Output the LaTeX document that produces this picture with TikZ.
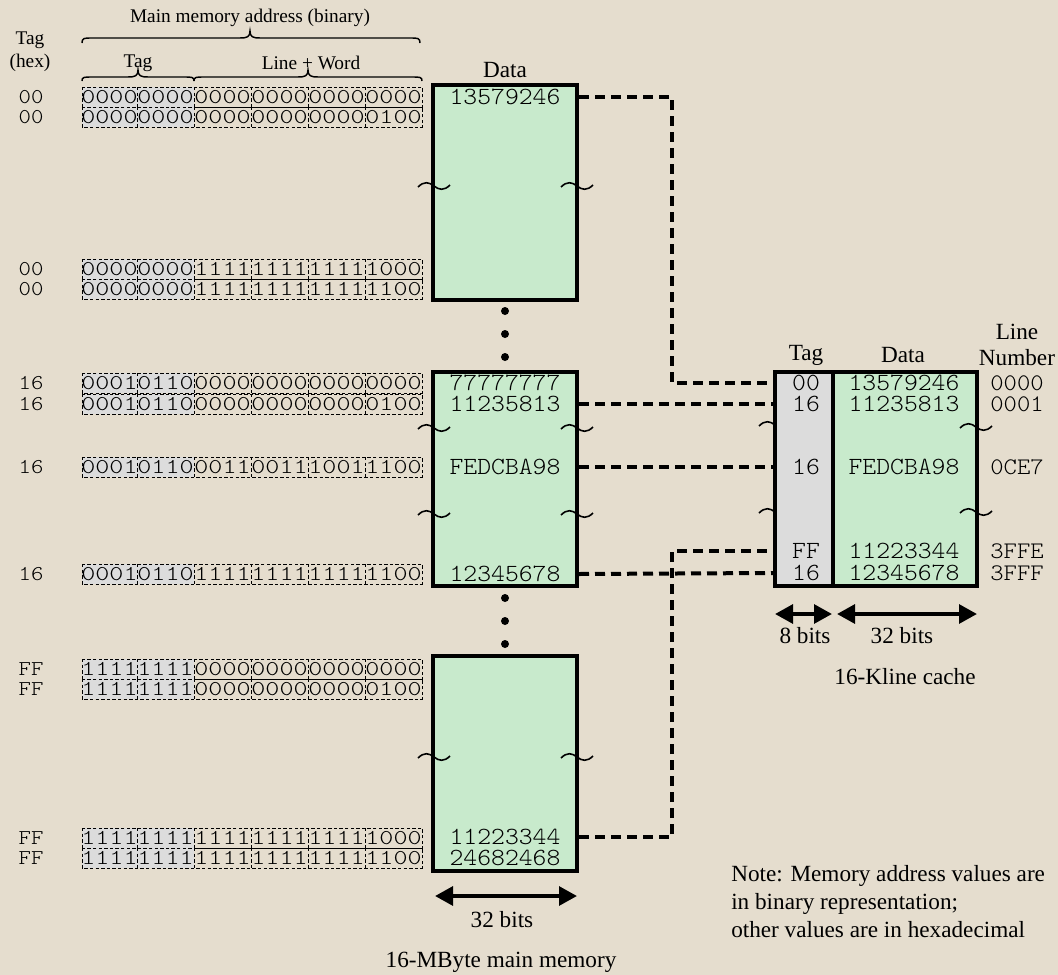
\documentclass[tikz,border=0pt]{standalone}
\usepackage{fontspec}
\setmainfont{Liberation Serif}
\newfontfamily\monofont[FakeStretch=1.07]{Latin Modern Mono Light}
\newfontfamily\binfont[FakeStretch=1.27]{Latin Modern Mono Light}
\newfontfamily\hexfont[FakeStretch=1.12]{Latin Modern Mono Light}
\usetikzlibrary{arrows.meta}
\definecolor{bg}{RGB}{229,221,206}
\definecolor{memgreen}{RGB}{200,234,204}
\definecolor{taggrey}{RGB}{220,220,220}
\tikzset{
  bigtxt/.style={inner sep=0pt, font=\fontsize{17.4}{20}\selectfont},
  smalltxt/.style={inner sep=0pt, font=\fontsize{14.5}{17}\selectfont},
  datatxt/.style={inner sep=0pt, font=\monofont\fontsize{18.5}{19}\selectfont},
  lntxt/.style={inner sep=0pt, font=\monofont\fontsize{17.8}{19}\selectfont},
  hexlab/.style={inner sep=0pt, font=\hexfont\fontsize{15.8}{16}\selectfont},
  bintxt/.style={inner sep=0pt, font=\binfont\fontsize{15.8}{16}\selectfont},
  bindash/.style={line width=0.6pt, dash pattern=on 2.6pt off 1.6pt},
  blk/.style={draw, line width=3pt, fill=memgreen, minimum width=108pt, inner sep=0pt},
  cachetag/.style={draw, line width=3pt, fill=taggrey, minimum width=43.5pt, minimum height=160.5pt, inner sep=0pt},
  cachedata/.style={draw, line width=3pt, fill=memgreen, minimum width=108pt, minimum height=160.5pt, inner sep=0pt},
  conn/.style={line width=3pt, dash pattern=on 7.5pt off 4.5pt},
  wave/.style={line width=1.2pt},
  bracepath/.style={line width=1.1pt},
  dimarrow/.style={line width=3pt, {Triangle[length=13.5pt,width=14pt]}-{Triangle[length=13.5pt,width=14pt]}},
  dotmark/.style={circle, fill=black, inner sep=0pt, minimum size=6pt}
}
\newcommand\binrow[9]{%
  \fill[taggrey] (82,#2-10) rectangle (194,#2+10);
  \draw[bindash] (82,#2-10) rectangle (422,#2+10);
  \foreach \xx in {137,194,251,308,365} {\draw[bindash] (\xx,#2-10) -- (\xx,#2+10);}
  \node[hexlab] (#1h) at (31,#2) {#3};
  \node[bintxt] (#1a) at (109.5,#2) {#4};
  \node[bintxt] (#1b) at (165.5,#2) {#5};
  \node[bintxt] (#1c) at (222.5,#2) {#6};
  \node[bintxt] (#1d) at (279.5,#2) {#7};
  \node[bintxt] (#1e) at (336.5,#2) {#8};
  \node[bintxt] (#1f) at (393.5,#2) {#9};
}
\newcommand\wavy[2]{%
  \draw[wave] (#1-16,#2+1) .. controls (#1-10,#2-5) and (#1-5,#2-4) .. (#1,#2) .. controls (#1+5,#2+4) and (#1+10,#2+5) .. (#1+16,#2-1);
}
\newcommand\hbr[6]{%
  \draw[bracepath] (#1,#4) .. controls (#1,#5) and (#1+2,#5) .. (#1+10,#5) -- (#2-10,#5) .. controls (#2-3,#5) and (#2,#5-1) .. (#2,#6) .. controls (#2,#5-1) and (#2+3,#5) .. (#2+10,#5) -- (#3-10,#5) .. controls (#3-2,#5) and (#3,#5) .. (#3,#4);
}
\begin{document}
\begin{tikzpicture}[x=0.75pt,y=-0.75pt]
\fill[bg] (0,0) rectangle (1058,975);
\useasboundingbox (0,0) rectangle (1058,975);

% header labels
\node[smalltxt] (mma) at (250,18) {Main memory address (binary)};
\hbr{82}{250}{420}{43}{38}{31}
\node[smalltxt] (taghexa) at (30,40) {Tag};
\node[smalltxt] (taghexb) at (30,63) {(hex)};
\node[smalltxt] (taglab) at (138,63) {Tag};
\node[smalltxt] (lwlab) at (311,63) {Line + Word};
\hbr{82}{138}{194}{81}{77}{70}
\hbr{194}{308}{422}{81}{77}{70}

% binary rows
\binrow{ra}{97}{00}{0000}{0000}{0000}{0000}{0000}{0000}
\binrow{rb}{117}{00}{0000}{0000}{0000}{0000}{0000}{0100}
\binrow{rc}{269}{00}{0000}{0000}{1111}{1111}{1111}{1000}
\binrow{rd}{289}{00}{0000}{0000}{1111}{1111}{1111}{1100}
\binrow{re}{383}{16}{0001}{0110}{0000}{0000}{0000}{0000}
\binrow{rf}{404}{16}{0001}{0110}{0000}{0000}{0000}{0100}
\binrow{rg}{467}{16}{0001}{0110}{0011}{0011}{1001}{1100}
\binrow{rh}{574}{16}{0001}{0110}{1111}{1111}{1111}{1100}
\binrow{ri}{669}{FF}{1111}{1111}{0000}{0000}{0000}{0000}
\binrow{rj}{689}{FF}{1111}{1111}{0000}{0000}{0000}{0100}
\binrow{rk}{838}{FF}{1111}{1111}{1111}{1111}{1111}{1000}
\binrow{rl}{858}{FF}{1111}{1111}{1111}{1111}{1111}{1100}

% memory blocks
\node[bigtxt] (datahdr) at (505,70) {Data};
\node[blk, minimum height=161.25pt] (blk1) at (505,192.5) {};
\node[blk, minimum height=160.5pt] (blk2) at (505,479) {};
\node[blk, minimum height=161.25pt] (blk3) at (505,763.5) {};

\node[datatxt] (d1) at (505,97) {13579246};
\node[datatxt] (d2) at (505,383) {77777777};
\node[datatxt] (d3) at (505,404) {11235813};
\node[datatxt] (d4) at (505,467) {FEDCBA98};
\node[datatxt] (d5) at (505,574) {12345678};
\node[datatxt] (d6) at (505,837) {11223344};
\node[datatxt] (d7) at (505,858) {24682468};

\wavy{434}{186}\wavy{577}{186}
\wavy{434}{428}\wavy{577}{428}
\wavy{434}{514}\wavy{577}{514}
\wavy{434}{757}\wavy{577}{757}

% dots
\node[dotmark] (p1) at (505,311) {};
\node[dotmark] (p2) at (505,334) {};
\node[dotmark] (p3) at (505,357) {};
\node[dotmark] (p4) at (505,598) {};
\node[dotmark] (p5) at (505,621) {};
\node[dotmark] (p6) at (505,644) {};

% memory width arrow
\coordinate (ma1) at (435,896);
\coordinate (ma2) at (577,896);
\draw[dimarrow] (ma1) -- (ma2);
\node[bigtxt] (mbits) at (502,920) {32 bits};
\node[bigtxt] (mcap) at (501,962) {16-MByte main memory};

% cache
\wavy{775}{425}\wavy{775}{512}
\node[cachetag] (ctag) at (804,479) {};
\node[cachedata] (cdata) at (905,479) {};
\wavy{976}{427}\wavy{976}{512}

\node[bigtxt] (ctaghdr) at (806,355) {Tag};
\node[bigtxt] (cdatahdr) at (903,355) {Data};
\node[bigtxt] (lnhdra) at (1017,332) {Line};
\node[bigtxt] (lnhdrb) at (1017,358) {Number};

\node[datatxt] (ct1) at (806,383) {00};
\node[datatxt] (ct2) at (806,404) {16};
\node[datatxt] (ct3) at (806,467) {16};
\node[datatxt] (ct4) at (806,551) {FF};
\node[datatxt] (ct5) at (806,573) {16};
\node[datatxt] (cd1) at (904,383) {13579246};
\node[datatxt] (cd2) at (904,404) {11235813};
\node[datatxt] (cd3) at (904,467) {FEDCBA98};
\node[datatxt] (cd4) at (904,551) {11223344};
\node[datatxt] (cd5) at (904,573) {12345678};
\node[lntxt] (ln1) at (1017,383) {0000};
\node[lntxt] (ln2) at (1017,404) {0001};
\node[lntxt] (ln3) at (1017,467) {0CE7};
\node[lntxt] (ln4) at (1017,551) {3FFE};
\node[lntxt] (ln5) at (1017,573) {3FFF};

% connectors
\coordinate (jx) at (672,0);
\draw[conn] (d1 -| blk1.east) -| (jx |- ct1) -- (ct1 -| ctag.west);
\draw[conn] (d3 -| blk2.east) -- (ct2 -| ctag.west);
\draw[conn] (d4 -| blk2.east) -- (ct3 -| ctag.west);
\draw[conn] (d5 -| blk2.east) -- (ct5 -| ctag.west);
\draw[conn] (d6 -| blk3.east) -| (jx |- ct4) -- (ct4 -| ctag.west);

% cache width arrows
\coordinate (ca1) at (775,614);
\coordinate (ca2) at (832,614);
\coordinate (ca3) at (837,614);
\coordinate (ca4) at (977,614);
\draw[dimarrow] (ca1) -- (ca2);
\draw[dimarrow] (ca3) -- (ca4);
\node[bigtxt] (cb8) at (805,636) {8 bits};
\node[bigtxt] (cb32) at (902,636) {32 bits};
\node[bigtxt] (ccap) at (905,677) {16-Kline cache};

% note
\node[bigtxt, anchor=base west] (note1) at (731,881) {Note: Memory address values are};
\node[bigtxt, anchor=base west] (note2) at (731,909) {in binary representation;};
\node[bigtxt, anchor=base west] (note3) at (731,937) {other values are in hexadecimal};
\end{tikzpicture}
\end{document}
